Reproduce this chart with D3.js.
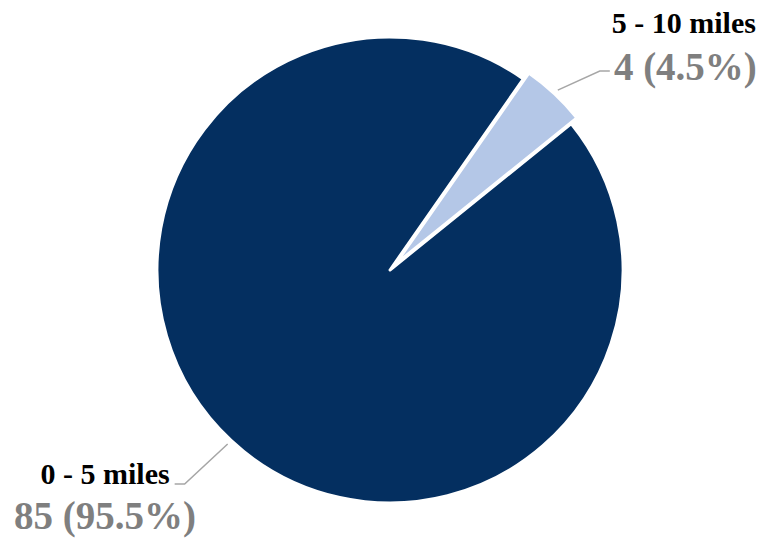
<!DOCTYPE html>
<html><head><meta charset="utf-8">
<script src="https://cdn.jsdelivr.net/npm/d3@7"></script>
<style>body{margin:0;background:#fff}svg{display:block}</style>
</head><body>
<script>
const categories = ["0 - 5 miles", "5 - 10 miles"];
const values = [85, 4];
const colors = ["#042f60", "#b4c7e7"];
const exploded = [false, true];

const W = 769, H = 538;
const cx = 390, cy = 270, R = 233;
const startDeg = 51.1;
const total = d3.sum(values);

const svg = d3.select("body").append("svg").attr("width", W).attr("height", H);
const g = svg.append("g").attr("transform", `translate(${cx},${cy})`);

const pie = d3.pie().sort(null)
  .startAngle(startDeg * Math.PI / 180)
  .endAngle(startDeg * Math.PI / 180 + 2 * Math.PI);
const arcs = pie(values);
const arc = d3.arc().innerRadius(0).outerRadius(R);
const explode = 8;

function mid(d) { return (d.startAngle + d.endAngle) / 2; }
function polar(a, r) { return [Math.sin(a) * r, -Math.cos(a) * r]; }

g.selectAll("path.slice").data(arcs).join("path")
  .attr("class", "slice")
  .attr("d", arc)
  .attr("fill", (d, i) => colors[i])
  .attr("stroke", "#fff")
  .attr("stroke-width", 3)
  .attr("stroke-linejoin", "round")
  .attr("transform", (d, i) => {
    if (!exploded[i]) return null;
    const p = polar(mid(d), explode);
    return `translate(${p[0]},${p[1]})`;
  });

const fmt = v => (v / total * 100).toFixed(1) + "%";
// leader elbow offsets (label placement) per slice
const elbowOffsets = [[-43, 40], [42, -19]];

arcs.forEach((d, i) => {
  const a = mid(d);
  const off = exploded[i] ? explode : 0;
  const p0 = polar(a, R + off + 5);
  const right = Math.sin(a) > 0;
  const p1 = [p0[0] + elbowOffsets[i][0], p0[1] + elbowOffsets[i][1]];
  const p2 = [p1[0] + (right ? 10 : -10), p1[1]];
  g.append("polyline")
    .attr("points", [p0, p1, p2].map(p => p.join(",")).join(" "))
    .attr("fill", "none").attr("stroke", "#a6a6a6").attr("stroke-width", 1.5);

  const nameX = right ? p2[0] + 2 : p2[0] - 5;
  const name = g.append("text")
    .attr("x", nameX).attr("y", right ? p2[1] - 38 : p2[1])
    .attr("text-anchor", right ? "start" : "end")
    .attr("font-family", "Liberation Serif, Times New Roman, serif")
    .attr("font-weight", "bold").attr("font-size", 30)
    .attr("fill", "#000")
    .text(categories[i]);
  const len = name.node().getComputedTextLength();
  const centerX = right ? nameX + len / 2 : nameX - len / 2;
  g.append("text")
    .attr("x", centerX + (right ? 1.5 : 0))
    .attr("y", right ? p2[1] + 9 : p2[1] + 45)
    .attr("text-anchor", "middle")
    .attr("font-family", "Liberation Serif, Times New Roman, serif")
    .attr("font-weight", "bold").attr("font-size", 39)
    .attr("fill", "#7f7f7f")
    .text(`${values[i]} (${fmt(values[i])})`);
});
</script>
</body></html>
